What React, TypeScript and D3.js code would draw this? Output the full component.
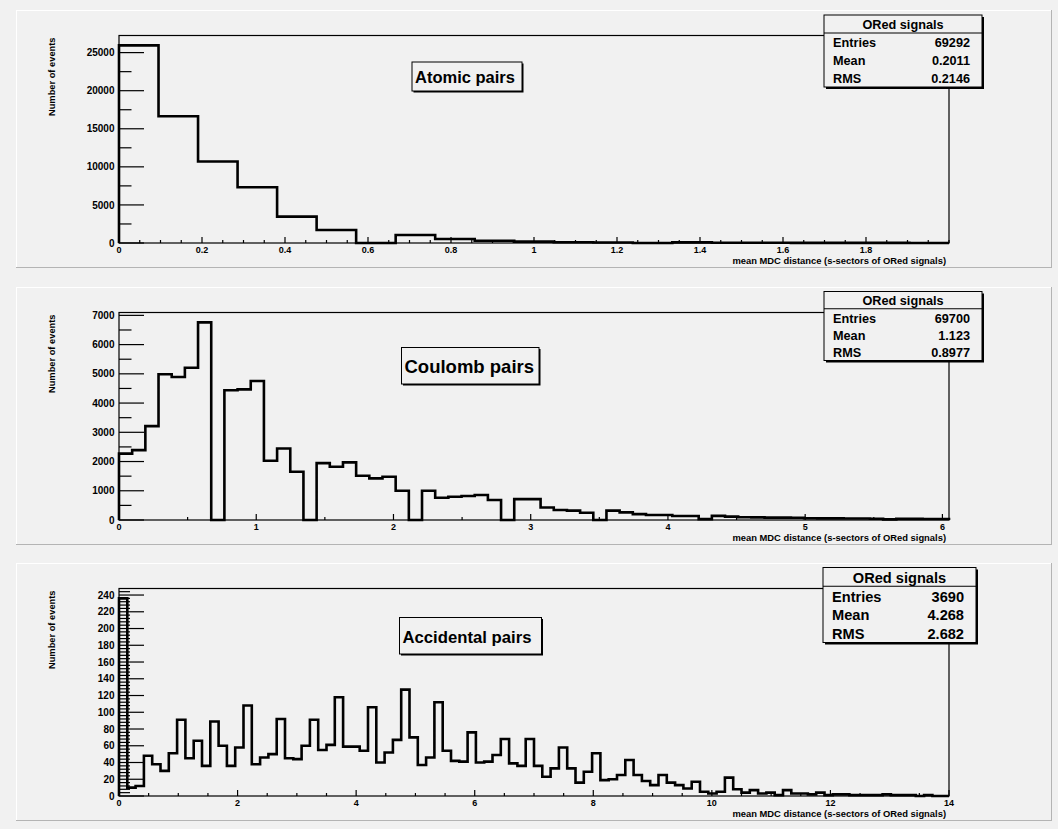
import React from 'react';
import * as d3 from 'd3';

const W = 1058;
const H = 829;

// ---------- data ----------
const atomicCounts = [25950, 16650, 10700, 7330, 3460, 1710, 0, 1050, 530, 300, 175, 90, 60, 0, 80, 30, 25, 20, 15, 10, 0];
const coulombCounts = [
  2270, 2390, 3210, 4985, 4890, 5210, 6760, 0, 4440, 4470,
  4755, 2025, 2445, 1650, 0, 1945, 1820, 1970, 1515, 1425,
  1480, 1000, 0, 1000, 760, 795, 820, 855, 685, 0,
  715, 715, 430, 340, 320, 250, 0, 320, 260, 200,
  170, 170, 135, 135, 30, 140, 115, 95, 90, 80,
  80, 75, 60, 55, 55, 50, 50, 45, 20, 40,
  40, 35, 35,
];
const accidentalCounts = [
  236, 10, 12, 48, 38, 30, 51, 91, 45, 66,
  36, 89, 60, 36, 58, 108, 38, 46, 50, 92,
  45, 44, 60, 91, 55, 61, 118, 59, 59, 54,
  106, 40, 52, 67, 127, 70, 37, 46, 112, 54,
  42, 41, 76, 40, 41, 49, 68, 39, 36, 68,
  36, 23, 33, 58, 33, 16, 29, 51, 19, 20,
  25, 43, 25, 18, 13, 25, 16, 13, 9, 17,
  5, 3, 5, 22, 8, 4, 7, 3, 4, 1,
  7, 3, 3, 2, 4, 1, 2, 2, 1, 1,
  1, 1, 2, 1, 1, 1, 0, 1, 0, 0,
];

const atomicXMax = 2.0;
const coulombXMax = 6.048;
const accidentalXMax = 14.0;

const atomicXTickLabels = ['0', '0.2', '0.4', '0.6', '0.8', '1', '1.2', '1.4', '1.6', '1.8'];
const coulombXTickLabels = ['0', '1', '2', '3', '4', '5', '6'];
const accidentalXTickLabels = ['0', '2', '4', '6', '8', '10', '12', '14'];

const atomicYTickLabels = ['0', '5000', '10000', '15000', '20000', '25000'];
const coulombYTickLabels = ['0', '1000', '2000', '3000', '4000', '5000', '6000', '7000'];
const accidentalYTickLabels = ['0', '20', '40', '60', '80', '100', '120', '140', '160', '180', '200', '220', '240'];

const statNames = ['Entries', 'Mean', 'RMS'];
const atomicStats = ['69292', '0.2011', '0.2146'];
const coulombStats = ['69700', '1.123', '0.8977'];
const accidentalStats = ['3690', '4.268', '2.682'];

const statsTitle = 'ORed signals';
const xTitle = 'mean MDC distance (s-sectors of ORed signals)';
const yTitle = 'Number of events';

// ---------- layout ----------
const FONT = "'Liberation Sans', Arial, Helvetica, sans-serif";
const BG = '#f1f1f1';
const PAD_X0 = 16;
const PAD_X1 = 1052;
const FX0 = 119;
const FX1 = 949;

const panels = [
  {
    padY: 10, counts: atomicCounts, xMax: atomicXMax, xLabels: atomicXTickLabels, xMinor: 0.05,
    yLabels: atomicYTickLabels, yMinor: 2500, yMinorLen: 12.5, stats: atomicStats,
    label: 'Atomic pairs', box: { x: 412, y: 62, w: 110, h: 29, fs: 16.5 },
    sbox: { x: 824, y: 15, w: 158, h: 72, fs: 12.7 },
  },
  {
    padY: 287, counts: coulombCounts, xMax: coulombXMax, xLabels: coulombXTickLabels, xMinor: 0.5,
    yLabels: coulombYTickLabels, yMinor: 500, yMinorLen: 12.5, stats: coulombStats,
    label: 'Coulomb pairs', box: { x: 401.5, y: 347.5, w: 137.5, h: 36.5, fs: 18.5 },
    sbox: { x: 824, y: 291.5, w: 158, h: 69, fs: 12.7 },
  },
  {
    padY: 563, counts: accidentalCounts, xMax: accidentalXMax, xLabels: accidentalXTickLabels, xMinor: 0.5,
    yLabels: accidentalYTickLabels, yMinor: 4, yMinorLen: 11, stats: accidentalStats,
    label: 'Accidental pairs', box: { x: 399.5, y: 617.5, w: 142, h: 36.5, fs: 16.7 },
    sbox: { x: 823, y: 567.5, w: 153, h: 75, fs: 14.6 },
  },
];

type Cfg = typeof panels[number];

function Panel({ cfg }: { cfg: Cfg }) {
  const top = cfg.padY;
  const frameTop = top + 25.5;
  const base = top + 233;
  const x = d3.scaleLinear().domain([0, cfg.xMax]).range([FX0, FX1]);
  const ymax = (d3.max(cfg.counts) as number) * 1.05;
  const y = d3.scaleLinear().domain([0, ymax]).range([base, frameTop]);
  const n = cfg.counts.length;
  const bw = cfg.xMax / n;
  const pts: [number, number][] = [[x(0), y(0)]];
  cfg.counts.forEach((c, i) => {
    pts.push([x(i * bw), y(c)]);
    pts.push([x((i + 1) * bw), y(c)]);
  });
  pts.push([x(cfg.xMax), y(0)]);
  const path = d3.line()(pts) as string;

  const xMajor = cfg.xLabels.map((s) => +s);
  const xMinor = d3.range(0, cfg.xMax + 1e-9, cfg.xMinor).filter((v) => !xMajor.some((m) => Math.abs(m - v) < 1e-6));
  const yMajor = cfg.yLabels.map((s) => +s);
  const yMinor = d3.range(0, ymax, cfg.yMinor).filter((v) => !yMajor.includes(v));

  const sb = cfg.sbox;
  const rowH = sb.h / 4;

  return (
    <g>
      {/* pad */}
      <rect x={PAD_X0} y={top} width={PAD_X1 - PAD_X0} height={258} fill={BG} />
      <line x1={PAD_X0} y1={top + 0.5} x2={PAD_X1} y2={top + 0.5} stroke="#ffffff" strokeWidth={1} />
      <line x1={PAD_X0 + 0.5} y1={top} x2={PAD_X0 + 0.5} y2={top + 258} stroke="#ffffff" strokeWidth={1} />
      <line x1={PAD_X0} y1={top + 258 - 0.5} x2={PAD_X1} y2={top + 258 - 0.5} stroke="#b4b4b4" strokeWidth={1} />
      <line x1={PAD_X1 - 0.5} y1={top} x2={PAD_X1 - 0.5} y2={top + 258} stroke="#b4b4b4" strokeWidth={1} />

      {/* frame */}
      <rect x={FX0} y={frameTop} width={FX1 - FX0} height={base - frameTop} fill="none" stroke="#000" strokeWidth={1.2} />

      {/* y ticks */}
      {yMajor.map((v) => (
        <line key={'ym' + v} x1={FX0} x2={FX0 + 25} y1={y(v)} y2={y(v)} stroke="#000" strokeWidth={1.2} />
      ))}
      {yMinor.map((v) => (
        <line key={'yn' + v} x1={FX0} x2={FX0 + cfg.yMinorLen} y1={y(v)} y2={y(v)} stroke="#000" strokeWidth={1.2} />
      ))}
      {cfg.yLabels.map((s) => (
        <text key={'yl' + s} x={114.5} y={y(+s)} dy="0.36em" textAnchor="end" fontFamily={FONT} fontWeight="bold" fontSize={10} fill="#000">{s}</text>
      ))}

      {/* x ticks */}
      {xMajor.map((v) => (
        <line key={'xm' + v} x1={x(v)} x2={x(v)} y1={base} y2={base - 6} stroke="#000" strokeWidth={1.2} />
      ))}
      {xMinor.map((v) => (
        <line key={'xn' + v} x1={x(v)} x2={x(v)} y1={base} y2={base - 3} stroke="#000" strokeWidth={1.2} />
      ))}
      {cfg.xLabels.map((s) => (
        <text key={'xl' + s} x={x(+s)} y={base + 10.2} textAnchor="middle" fontFamily={FONT} fontWeight="bold" fontSize={9} fill="#000">{s}</text>
      ))}

      {/* histogram */}
      <path d={path} fill="none" stroke="#000" strokeWidth={2.6} strokeLinejoin="miter" />

      {/* axis titles */}
      <text x={946} y={base + 20.7} textAnchor="end" fontFamily={FONT} fontWeight="bold" fontSize={9.4} fill="#000">{xTitle}</text>
      <text transform={`translate(55.3,${frameTop + 2}) rotate(-90)`} textAnchor="end" fontFamily={FONT} fontWeight="bold" fontSize={9.3} fill="#000">{yTitle}</text>

      {/* label box */}
      <rect x={cfg.box.x + 1.5} y={cfg.box.y + 1.5} width={cfg.box.w} height={cfg.box.h} fill="#000" />
      <rect x={cfg.box.x} y={cfg.box.y} width={cfg.box.w} height={cfg.box.h} fill={BG} stroke="#000" strokeWidth={1} />
      <text x={cfg.box.x + 3} y={cfg.box.y + cfg.box.h / 2 + 1} dy="0.36em" fontFamily={FONT} fontWeight="bold" fontSize={cfg.box.fs} fill="#000">{cfg.label}</text>

      {/* stats box */}
      <rect x={sb.x + 2} y={sb.y + 2} width={sb.w} height={sb.h} fill="#000" />
      <rect x={sb.x} y={sb.y} width={sb.w} height={sb.h} fill={BG} stroke="#000" strokeWidth={1} />
      <line x1={sb.x} x2={sb.x + sb.w} y1={sb.y + rowH} y2={sb.y + rowH} stroke="#000" strokeWidth={1} />
      <text x={sb.x + sb.w / 2} y={sb.y + rowH / 2 + 0.5} dy="0.36em" textAnchor="middle" fontFamily={FONT} fontWeight="bold" fontSize={sb.fs} fill="#000">{statsTitle}</text>
      {statNames.map((nm, i) => (
        <g key={nm}>
          <text x={sb.x + 9} y={sb.y + rowH * (i + 1.5) + 0.8} dy="0.36em" fontFamily={FONT} fontWeight="bold" fontSize={sb.fs} fill="#000">{nm}</text>
          <text x={sb.x + sb.w - 12} y={sb.y + rowH * (i + 1.5) + 0.8} dy="0.36em" textAnchor="end" fontFamily={FONT} fontWeight="bold" fontSize={sb.fs} fill="#000">{cfg.stats[i]}</text>
        </g>
      ))}
    </g>
  );
}

export default function App() {
  return (
    <svg
      width={W}
      height={H}
      viewBox={`0 0 ${W} ${H}`}
      style={{ position: 'absolute', left: 0, top: 0, display: 'block' }}
    >
      <rect x={0} y={0} width={W} height={H} fill={BG} />
      {panels.map((p, i) => (
        <Panel key={i} cfg={p} />
      ))}
    </svg>
  );
}
